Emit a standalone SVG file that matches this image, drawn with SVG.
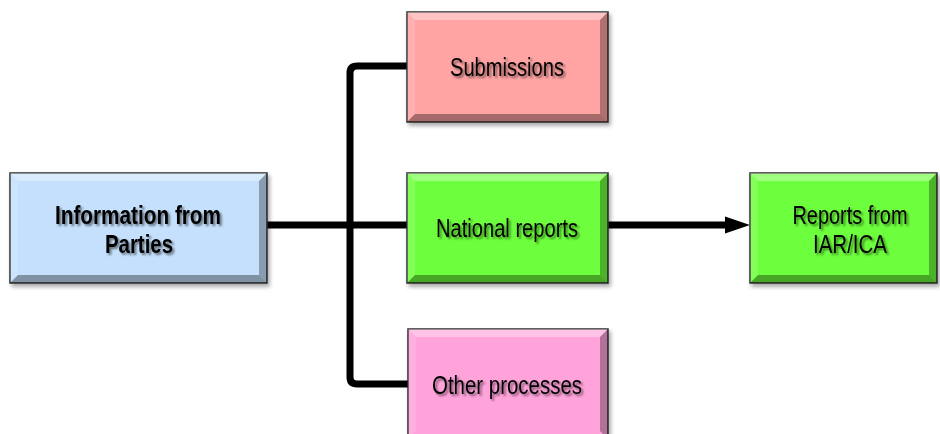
<svg xmlns="http://www.w3.org/2000/svg" width="940" height="434" viewBox="0 0 940 434">
<defs>
<style>
.box{stroke:#2b2b2b;stroke-width:1.5}
.blue{fill:#c4e0fc}
.red{fill:#ffa3a3}
.green{fill:#6dff3c}
.pink{fill:#ffa3da}
.bt{fill:#fff;opacity:.35}
.bl{fill:#fff;opacity:.15}
.br{fill:#000;opacity:.3}
.bb{fill:#000;opacity:.35}
.t{font-family:"Liberation Sans",Arial,sans-serif;font-size:25px;fill:#000;text-anchor:middle;filter:url(#ts)}
.b{font-weight:bold}
.c{fill:none;stroke:#000;stroke-width:7}
</style>
<filter id="ts" x="-10%" y="-30%" width="120%" height="160%">
<feGaussianBlur in="SourceAlpha" stdDeviation="1"/>
<feOffset dx="1.5" dy="1.5" result="o"/>
<feComponentTransfer><feFuncA type="linear" slope="0.5"/></feComponentTransfer>
<feMerge><feMergeNode/><feMergeNode in="SourceGraphic"/></feMerge>
</filter>
<filter id="sh" x="-10%" y="-10%" width="120%" height="130%">
<feGaussianBlur in="SourceAlpha" stdDeviation="2"/>
<feOffset dx="2" dy="3"/>
<feComponentTransfer><feFuncA type="linear" slope="0.35"/></feComponentTransfer>
<feMerge><feMergeNode/><feMergeNode in="SourceGraphic"/></feMerge>
</filter>
</defs>
<rect width="940" height="434" fill="#fff"/>
<g id="connectors">
<path class="c" d="M267,225 H407"/>
<path class="c" d="M407,66 H357 Q350,66 350,73 V377 Q350,384 357,384 H408"/>
<path class="c" d="M608,225 H728"/>
<polygon points="725,216.5 750,225 725,233.5" fill="#000"/>
</g>
<g id="info" filter="url(#sh)">
<rect class="box blue" x="10" y="173" width="257" height="110"/>
<polygon class="bt" points="10,173 267,173 259,181 18,181"/>
<polygon class="bl" points="10,173 18,181 18,275 10,283"/>
<polygon class="br" points="267,173 267,283 259,275 259,181"/>
<polygon class="bb" points="10,283 267,283 259,275 18,275"/>
<text class="t b" x="138" y="224" textLength="166" lengthAdjust="spacingAndGlyphs">Information from</text>
<text class="t b" x="139" y="253" textLength="68" lengthAdjust="spacingAndGlyphs">Parties</text>
</g>
<g id="submissions" filter="url(#sh)">
<rect class="box red" x="407" y="12" width="201" height="110"/>
<polygon class="bt" points="407,12 608,12 600,20 415,20"/>
<polygon class="bl" points="407,12 415,20 415,114 407,122"/>
<polygon class="br" points="608,12 608,122 600,114 600,20"/>
<polygon class="bb" points="407,122 608,122 600,114 415,114"/>
<text class="t" x="507" y="76" textLength="114" lengthAdjust="spacingAndGlyphs">Submissions</text>
</g>
<g id="national" filter="url(#sh)">
<rect class="box green" x="407" y="173" width="201" height="110"/>
<polygon class="bt" points="407,173 608,173 600,181 415,181"/>
<polygon class="bl" points="407,173 415,181 415,275 407,283"/>
<polygon class="br" points="608,173 608,283 600,275 600,181"/>
<polygon class="bb" points="407,283 608,283 600,275 415,275"/>
<text class="t" x="507" y="237" textLength="142" lengthAdjust="spacingAndGlyphs">National reports</text>
</g>
<g id="other" filter="url(#sh)">
<rect class="box pink" x="408" y="329" width="200" height="110"/>
<polygon class="bt" points="408,329 608,329 600,337 416,337"/>
<polygon class="bl" points="408,329 416,337 416,431 408,439"/>
<polygon class="br" points="608,329 608,439 600,431 600,337"/>
<text class="t" x="507" y="394" textLength="150" lengthAdjust="spacingAndGlyphs">Other processes</text>
</g>
<g id="iar" filter="url(#sh)">
<rect class="box green" x="750" y="173" width="187" height="110"/>
<polygon class="bt" points="750,173 937,173 929,181 758,181"/>
<polygon class="bl" points="750,173 758,181 758,275 750,283"/>
<polygon class="br" points="937,173 937,283 929,275 929,181"/>
<polygon class="bb" points="750,283 937,283 929,275 758,275"/>
<text class="t" x="850" y="224" textLength="115" lengthAdjust="spacingAndGlyphs">Reports from</text>
<text class="t" x="850" y="253" textLength="74" lengthAdjust="spacingAndGlyphs">IAR/ICA</text>
</g>
</svg>
